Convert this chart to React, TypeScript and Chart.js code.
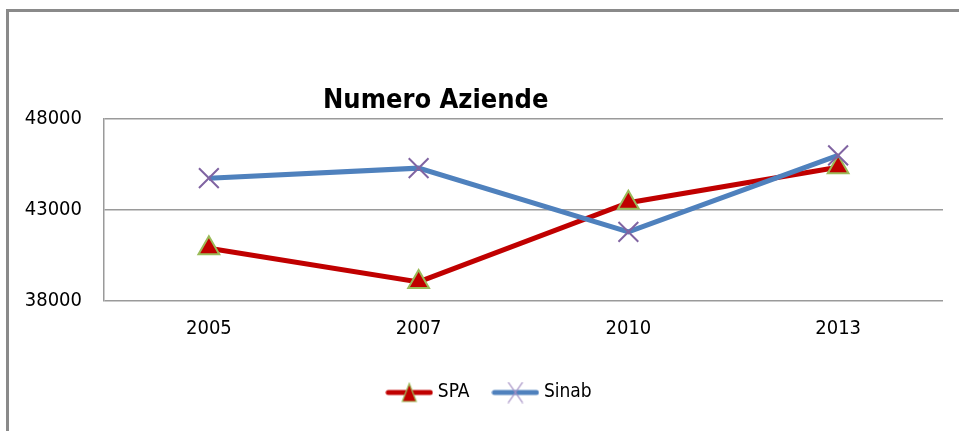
import React, { useEffect, useRef } from "react";
import { Chart, registerables } from "chart.js";

Chart.register(...registerables);

const categories = ["2005", "2007", "2010", "2013"];
const spaValues = [40900, 39050, 43400, 45350];
const sinabValues = [44750, 45300, 41800, 46000];
const yTicks = [38000, 43000, 48000];
const chartTitle = "Numero Aziende";
const seriesNames = ["SPA", "Sinab"];

const FONT = "'DejaVu Sans Condensed', 'DejaVu Sans', sans-serif";
const RED = "#C00000";
const GREEN = "#9BBB59";
const BLUE = "#4F81BD";
const PURPLE = "#8064A2";
const GRID = "#9a9a9a";

function makeLegendIcon(kind: "tri" | "cross"): HTMLCanvasElement {
  const c = document.createElement("canvas");
  c.width = 48;
  c.height = 22;
  const ctx = c.getContext("2d")!;
  ctx.lineCap = "round";
  ctx.strokeStyle = kind === "tri" ? RED : BLUE;
  ctx.lineWidth = 5;
  ctx.beginPath();
  ctx.moveTo(3, 11);
  ctx.lineTo(45, 11);
  ctx.stroke();
  if (kind === "tri") {
    ctx.beginPath();
    ctx.moveTo(24, 2);
    ctx.lineTo(31, 20);
    ctx.lineTo(17, 20);
    ctx.closePath();
    ctx.fillStyle = RED;
    ctx.fill();
    ctx.strokeStyle = GREEN;
    ctx.lineWidth = 1.2;
    ctx.stroke();
  } else {
    ctx.strokeStyle = "#a48fc4";
    ctx.lineWidth = 1.3;
    ctx.beginPath();
    ctx.moveTo(17, 1);
    ctx.lineTo(31, 21);
    ctx.moveTo(31, 1);
    ctx.lineTo(17, 21);
    ctx.stroke();
  }
  return c;
}

const titlePlugin = {
  id: "leftTitle",
  afterLayout(chart: any) {
    if (chart.legend) chart.legend.left += 39;
  },
  afterDraw(chart: any) {
    const { ctx, chartArea } = chart;
    ctx.save();
    ctx.font = `bold 27px ${FONT}`;
    ctx.fillStyle = "#000";
    ctx.textBaseline = "alphabetic";
    ctx.textAlign = "left";
    ctx.fillText(chartTitle, chartArea.left + 219, chartArea.top - 11);
    ctx.restore();
  },
};

export default function App() {
  const ref = useRef<HTMLCanvasElement | null>(null);

  useEffect(() => {
    if (!ref.current) return;
    const icons = [makeLegendIcon("tri"), makeLegendIcon("cross")];
    const chart = new Chart(ref.current, {
      type: "line",
      data: {
        labels: categories,
        datasets: [
          {
            label: seriesNames[0],
            data: spaValues,
            borderColor: RED,
            backgroundColor: RED,
            borderWidth: 5,
            pointStyle: "triangle",
            pointRadius: 12,
            pointBackgroundColor: RED,
            pointBorderColor: GREEN,
            pointBorderWidth: 2,
            tension: 0,
            order: 1,
          },
          {
            label: seriesNames[1],
            data: sinabValues,
            borderColor: BLUE,
            backgroundColor: BLUE,
            borderWidth: 5,
            pointStyle: "crossRot",
            pointRadius: 14,
            pointBorderColor: PURPLE,
            pointBackgroundColor: PURPLE,
            pointBorderWidth: 2,
            tension: 0,
            order: 0,
          },
        ],
      },
      options: {
        responsive: false,
        animation: false,
        layout: { padding: { left: 0, right: 16, top: 119, bottom: 19 } },
        plugins: {
          tooltip: { enabled: false },
          title: { display: false },
          legend: {
            position: "bottom",
            labels: {
              usePointStyle: true,
              pointStyleWidth: 38,
              padding: 27,
              color: "#000",
              font: { family: FONT, size: 19 },
              sort: (a: any, b: any) => a.datasetIndex - b.datasetIndex,
              generateLabels: (ch: any) =>
                ch.data.datasets.map((ds: any, i: number) => ({
                  text: ds.label,
                  datasetIndex: i,
                  pointStyle: icons[i],
                  fillStyle: ds.borderColor,
                  strokeStyle: ds.borderColor,
                  lineWidth: 0,
                  hidden: false,
                })),
            },
          },
        },
        scales: {
          x: {
            offset: true,
            grid: { display: false, drawTicks: false, offset: true },
            border: { display: false },
            ticks: {
              color: "#000",
              padding: 16,
              font: { family: FONT, size: 20 },
            },
            afterFit: (s: any) => {
              s.height = 55;
            },
          },
          y: {
            min: 38000,
            max: 48000,
            grid: { color: GRID, lineWidth: 1.5, drawTicks: false },
            border: { display: true, color: GRID, width: 1.5 },
            afterBuildTicks: (s: any) => {
              s.ticks = yTicks.map((v) => ({ value: v }));
            },
            ticks: {
              color: "#000",
              padding: 22,
              font: { family: FONT, size: 20 },
              callback: (v: any) => String(v),
            },
            afterFit: (s: any) => {
              s.width = 104;
            },
          },
        },
      },
      plugins: [titlePlugin],
    });
    return () => chart.destroy();
  }, []);

  return (
    <div
      style={{
        position: "fixed",
        left: 0,
        top: 0,
        width: 959,
        height: 431,
        background: "#fff",
        overflow: "hidden",
      }}
    >
      <div
        style={{
          position: "absolute",
          left: 6,
          top: 9,
          width: 1000,
          height: 500,
          borderLeft: "3px solid #8a8a8a",
          borderTop: "3px solid #8a8a8a",
        }}
      />
      <canvas
        ref={ref}
        width={959}
        height={431}
        style={{ position: "absolute", left: 0, top: 0, display: "block" }}
      />
    </div>
  );
}
